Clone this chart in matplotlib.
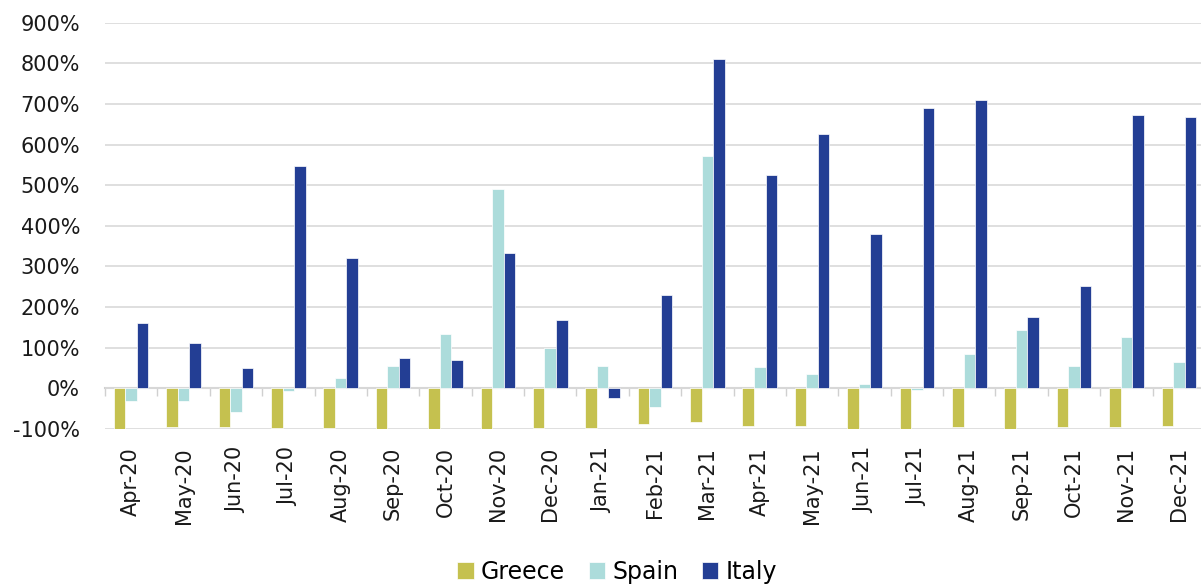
import matplotlib
matplotlib.use("Agg")
import matplotlib.pyplot as plt
import numpy as np

months = ["Apr-20", "May-20", "Jun-20", "Jul-20", "Aug-20", "Sep-20", "Oct-20",
          "Nov-20", "Dec-20", "Jan-21", "Feb-21", "Mar-21", "Apr-21", "May-21",
          "Jun-21", "Jul-21", "Aug-21", "Sep-21", "Oct-21", "Nov-21", "Dec-21"]
greece = [-100, -94, -96, -97, -97, -100, -100, -100, -98, -97, -88, -84, -93, -92,
          -100, -100, -96, -100, -94, -96, -92]
spain = [-30, -30, -57, -6, 26, 55, 134, 491, 99, 55, -45, 572, 52, 35,
         11, -4, 84, 143, 54, 126, 66]
italy = [162, 111, 49, 548, 320, 75, 71, 334, 168, -23, 229, 810, 525, 626,
         379, 689, 710, 176, 252, 672, 669]
series_names = ["Greece", "Spain", "Italy"]
colors = ["#c5c14f", "#acdcdb", "#233e94"]
yticks = list(range(-100, 1000, 100))

plt.rcParams['font.family'] = ['DejaVu Sans']
fig = plt.figure(figsize=(12.01, 5.86), dpi=100)
W, H = 1201, 586
ax = fig.add_axes([105 / W, (H - 429) / H, 1100 / W, (429 - 22.7) / H])

x = np.arange(len(months))
bw = 0.22
for i, (vals, name, c) in enumerate(zip([greece, spain, italy], series_names, colors)):
    ax.bar(x + (i - 1) * bw, vals, width=bw, color=c, edgecolor="white",
           linewidth=0.5, label=name, zorder=3)

ax.set_xlim(-0.5, len(months) - 0.5)
ax.set_ylim(-100, 900)
ax.set_yticks(yticks)
ax.set_yticklabels([f"{v}%" for v in yticks], fontsize=15, color="#1a1a1a")
ax.yaxis.grid(True, color="#d9d9d9", linewidth=1.2, zorder=0)
ax.set_axisbelow(True)
ax.tick_params(axis="y", length=0, pad=18)

ax.set_xticks(x)
ax.set_xticklabels(months, rotation=90, fontsize=15, color="#1a1a1a")
ax.tick_params(axis="x", length=0, pad=13)

for s in ax.spines.values():
    s.set_visible(False)

# zero axis line with category boundary ticks
sec = ax.secondary_xaxis(0.1)
sec.set_xticks(np.arange(-0.5, len(months), 1.0))
sec.set_xticklabels([])
sec.tick_params(axis="x", length=6, width=1.0, color="#d0d0d0", direction="out")
sec.spines["bottom"].set_color("#d0d0d0")
sec.spines["bottom"].set_linewidth(1.5)

leg = fig.legend(loc="center", bbox_to_anchor=(617 / W, 1 - 572 / H), ncol=3,
                 frameon=False, fontsize=17, handlelength=0.7, handleheight=0.7,
                 handletextpad=0.3, columnspacing=1.0)

fig.savefig("out.png", dpi=100)
